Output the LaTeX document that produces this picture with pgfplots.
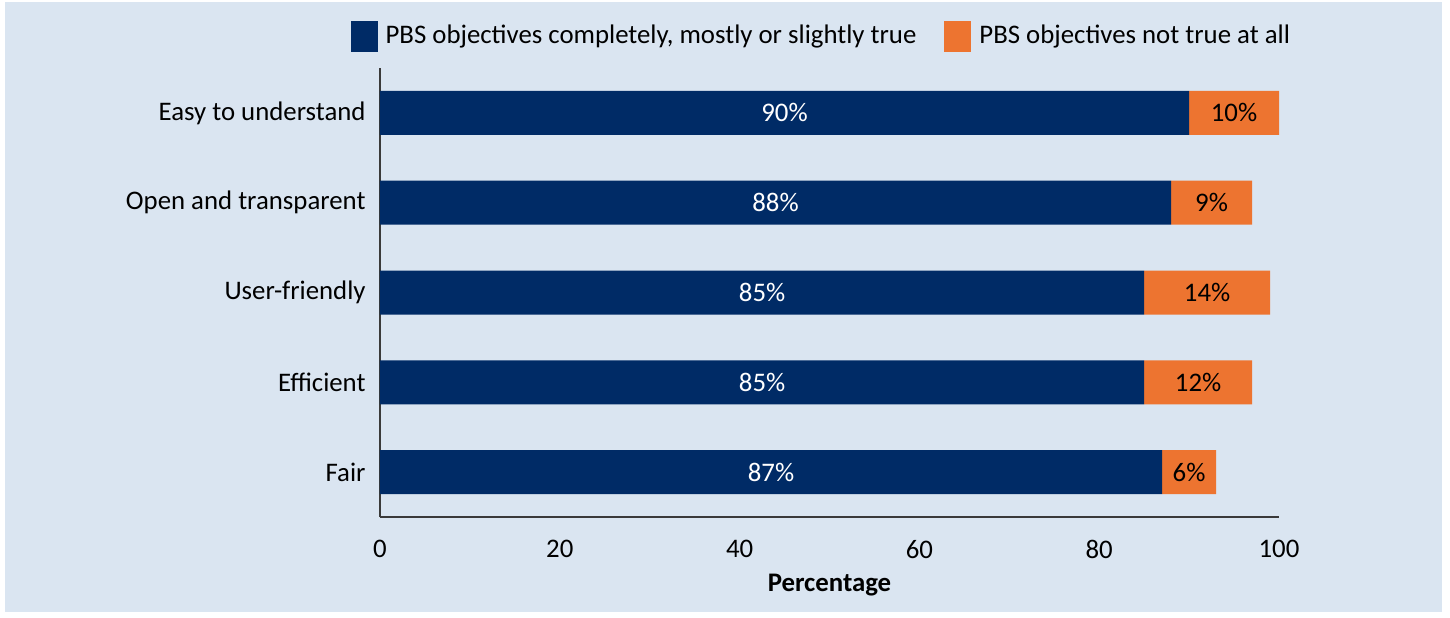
\documentclass[border=0pt]{standalone}
\usepackage{pgfplots}
\pgfplotsset{compat=1.18}
\usepackage{pgfplotstable}
\usepackage{fontspec}
\setmainfont{Carlito}
\definecolor{bg}{HTML}{DAE5F1}
\definecolor{navy}{HTML}{002B66}
\definecolor{orng}{HTML}{ED7430}
\definecolor{axc}{HTML}{3A3A3A}

\pgfplotstableread{
y a b
4 90 10
3 88 9
2 85 14
1 85 12
0 87 6
}\data

\begin{document}
\begin{tikzpicture}
\fill[white] (-190pt,-50pt) rectangle (535pt,258.5pt);
\fill[bg] (-187.5pt,-47.5pt) rectangle (531pt,257.5pt);
\begin{axis}[
 at={(0,0)}, anchor=south west, scale only axis,
 width=449.5pt, height=224.5pt,
 xbar stacked, bar width=22pt,
 xmin=0, xmax=100, ymin=-0.5, ymax=4.5,
 axis lines*=left,
 axis line style={axc, line width=0.8pt},
 xtick={0,20,...,100}, ytick={0,1,2,3,4},
 yticklabels={Fair,Efficient,User-friendly,Open and transparent,Easy to understand},
 major tick length=0pt,
 tick label style={font=\fontsize{13.4}{15}\selectfont, text=black},
 /pgf/number format/assume math mode=true,
 xticklabel style={yshift=-8pt},
 yticklabel style={xshift=-3.7pt},
 xlabel={\textbf{Percentage}},
 xlabel style={font=\fontsize{13.4}{15}\selectfont, at={(axis description cs:0.5,0)}, anchor=center, yshift=-34pt},
 legend style={at={(axis description cs:0.492,1.071)}, anchor=center, draw=none, fill=none,
   font=\fontsize{13.4}{15}\selectfont,
   /tikz/every odd column/.append style={column sep=2pt},
   /tikz/every even column/.append style={column sep=12pt}},
 legend columns=2,
 legend image code/.code={\fill[#1] (0pt,-7.75pt) rectangle (13.5pt,7.75pt);},
 point meta=explicit,
 nodes near coords={\pgfmathprintnumber{\pgfplotspointmeta}\%},
 nodes near coords style={font=\fontsize{13.4}{15}\selectfont, anchor=center},
]
\addplot[fill=navy, draw=none,
  every node near coord/.append style={text=white}]
  table[x=a, y=y, meta=a] {\data};
\addlegendentry{PBS objectives completely, mostly or slightly true}
\addplot[fill=orng, draw=none,
  every node near coord/.append style={text=black}]
  table[x=b, y=y, meta=b] {\data};
\addlegendentry{PBS objectives not true at all}
\end{axis}
\end{tikzpicture}
\end{document}
